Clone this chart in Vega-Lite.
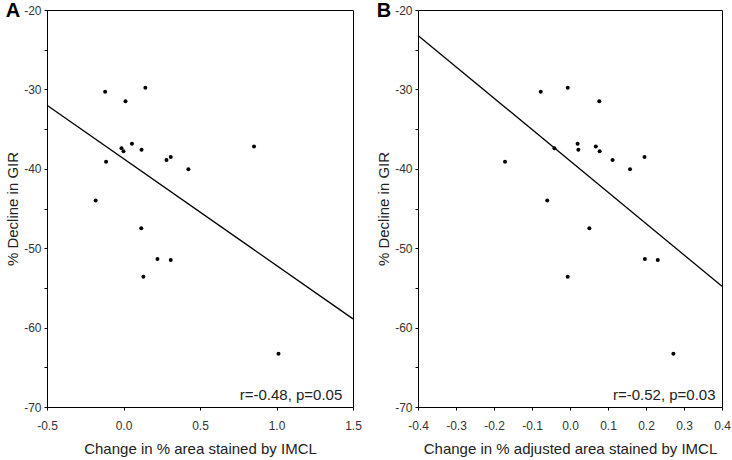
{
  "$schema": "https://vega.github.io/schema/vega-lite/v6.json",
  "padding": {"left": 5, "top": 0, "right": 0, "bottom": 0},
  "background": "white",
  "datasets": {
    "pointsA": [
      {"x": -0.12, "y": -30.3}, {"x": 0.143, "y": -29.8}, {"x": 0.013, "y": -31.5},
      {"x": -0.013, "y": -37.4}, {"x": 0.0, "y": -37.8}, {"x": 0.055, "y": -36.85},
      {"x": 0.118, "y": -37.6}, {"x": -0.114, "y": -39.1}, {"x": 0.281, "y": -38.9},
      {"x": 0.309, "y": -38.5}, {"x": 0.424, "y": -40.05}, {"x": 0.853, "y": -37.2},
      {"x": -0.182, "y": -44.0}, {"x": 0.116, "y": -47.5}, {"x": 0.222, "y": -51.35},
      {"x": 0.309, "y": -51.5}, {"x": 0.13, "y": -53.6}, {"x": 1.013, "y": -63.3}
    ],
    "lineA": [{"x": -0.5, "y": -32.0}, {"x": 1.5, "y": -58.9}],
    "noteA": [{"x": 1.43, "y": -69.1, "label": "r=-0.48, p=0.05"}],
    "pointsB": [
      {"x": -0.077, "y": -30.3}, {"x": -0.006, "y": -29.8}, {"x": 0.077, "y": -31.5},
      {"x": -0.041, "y": -37.4}, {"x": 0.02, "y": -36.85}, {"x": 0.022, "y": -37.6},
      {"x": 0.068, "y": -37.2}, {"x": 0.078, "y": -37.8}, {"x": 0.112, "y": -38.9},
      {"x": 0.196, "y": -38.5}, {"x": 0.158, "y": -40.05}, {"x": -0.171, "y": -39.1},
      {"x": -0.06, "y": -44.0}, {"x": 0.051, "y": -47.5}, {"x": 0.197, "y": -51.35},
      {"x": 0.231, "y": -51.5}, {"x": -0.006, "y": -53.6}, {"x": 0.272, "y": -63.3}
    ],
    "lineB": [{"x": -0.4, "y": -23.2}, {"x": 0.4, "y": -54.8}],
    "noteB": [{"x": 0.383, "y": -69.1, "label": "r=-0.52, p=0.03"}]
  },
  "spacing": 14,
  "hconcat": [
    {
      "width": 306,
      "height": 397,
      "title": {"text": "A", "anchor": "start", "frame": "bounds", "offset": -17},
      "encoding": {
        "x": {"field": "x", "type": "quantitative",
          "scale": {"domain": [-0.5, 1.5], "nice": false, "zero": false},
          "axis": {"title": "Change in % area stained by IMCL", "values": [-0.5, 0, 0.5, 1, 1.5],
            "labelExpr": "replace(format(datum.value, '.1f'), '\u2212', '-')"}},
        "y": {"field": "y", "type": "quantitative",
          "scale": {"domain": [-70, -20], "nice": false, "zero": false},
          "axis": {"title": "% Decline in GIR", "values": [-70, -65, -60, -55, -50, -45, -40, -35, -30, -25, -20],
            "labelExpr": "datum.value % 10 == 0 ? replace(format(datum.value, 'd'), '\u2212', '-') : ''"}}
      },
      "layer": [
        {"data": {"name": "pointsA"}, "mark": {"type": "circle", "size": 16, "color": "black", "opacity": 1}},
        {"data": {"name": "lineA"}, "mark": {"type": "line", "color": "black", "strokeWidth": 1.3}},
        {"data": {"name": "noteA"}, "mark": {"type": "text", "align": "right", "baseline": "alphabetic", "fontSize": 15, "color": "#222"},
          "encoding": {"text": {"field": "label"}}}
      ]
    },
    {
      "width": 304,
      "height": 397,
      "title": {"text": "B", "anchor": "start", "frame": "bounds", "offset": -17},
      "encoding": {
        "x": {"field": "x", "type": "quantitative",
          "scale": {"domain": [-0.4, 0.4], "nice": false, "zero": false},
          "axis": {"title": "Change in % adjusted area stained by IMCL", "values": [-0.4, -0.3, -0.2, -0.1, 0, 0.1, 0.2, 0.3, 0.4],
            "labelExpr": "replace(format(datum.value, '.1f'), '\u2212', '-')"}},
        "y": {"field": "y", "type": "quantitative",
          "scale": {"domain": [-70, -20], "nice": false, "zero": false},
          "axis": {"title": "% Decline in GIR", "values": [-70, -65, -60, -55, -50, -45, -40, -35, -30, -25, -20],
            "labelExpr": "datum.value % 10 == 0 ? replace(format(datum.value, 'd'), '\u2212', '-') : ''"}}
      },
      "layer": [
        {"data": {"name": "pointsB"}, "mark": {"type": "circle", "size": 16, "color": "black", "opacity": 1}},
        {"data": {"name": "lineB"}, "mark": {"type": "line", "color": "black", "strokeWidth": 1.3}},
        {"data": {"name": "noteB"}, "mark": {"type": "text", "align": "right", "baseline": "alphabetic", "fontSize": 15, "color": "#222"},
          "encoding": {"text": {"field": "label"}}}
      ]
    }
  ],
  "config": {
    "font": "Liberation Sans",
    "view": {"stroke": "black", "strokeWidth": 1},
    "title": {"fontSize": 20, "fontWeight": "bold", "color": "black", "font": "Liberation Sans"},
    "axis": {
      "grid": false,
      "domainColor": "black",
      "tickColor": "black",
      "tickSize": 3,
      "labelFontSize": 12,
      "labelColor": "#333",
      "labelFlush": false,
      "labelOverlap": false,
      "titleFontSize": 15,
      "titleFontWeight": "normal",
      "titleColor": "#222"
    },
    "axisX": {"labelPadding": 10, "titlePadding": 10},
    "axisY": {"labelPadding": 3, "titlePadding": 3}
  }
}
